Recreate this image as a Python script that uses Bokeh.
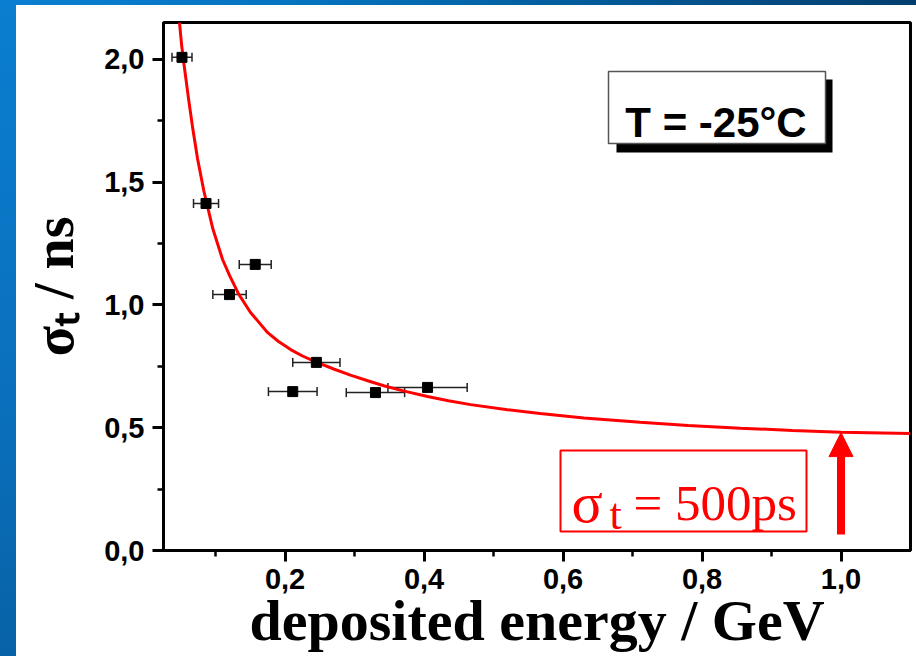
import numpy as np
from bokeh.plotting import figure
from bokeh.models import (Range1d, FixedTicker, CustomJSTickFormatter, ColumnDataSource,
                          Whisker, TeeHead, Label, BoxAnnotation, Arrow, NormalHead, Div)
from bokeh.layouts import column, row
from bokeh.embed import file_html
from bokeh.resources import INLINE

# ---------------- data ----------------
energy = [0.0516, 0.0862, 0.157, 0.120, 0.245, 0.211, 0.330, 0.405]
sigma = [2.008, 1.413, 1.165, 1.042, 0.766, 0.647, 0.643, 0.664]
energy_err = [0.0144, 0.018, 0.023, 0.024, 0.034, 0.035, 0.042, 0.057]

fit_energy = [0.048, 0.051, 0.054, 0.061, 0.067, 0.074, 0.083, 0.096, 0.110, 0.120,
              0.133, 0.150, 0.175, 0.190, 0.208, 0.225, 0.245, 0.270, 0.294, 0.320,
              0.342, 0.370, 0.405, 0.435, 0.467, 0.520, 0.567, 0.630, 0.711, 0.780,
              0.855, 0.930, 1.000, 1.100]
fit_sigma = [2.15, 2.06, 1.99, 1.84, 1.72, 1.595, 1.465, 1.31, 1.185, 1.12,
             1.045, 0.970, 0.887, 0.852, 0.818, 0.792, 0.767, 0.739, 0.714, 0.690,
             0.671, 0.650, 0.627, 0.610, 0.594, 0.573, 0.558, 0.540, 0.522, 0.509,
             0.498, 0.489, 0.482, 0.476]

x_ticks = [0.2, 0.4, 0.6, 0.8, 1.0]
x_tick_labels = ["0,2", "0,4", "0,6", "0,8", "1,0"]
x_minor = [0.1, 0.3, 0.5, 0.7, 0.9]
y_ticks = [0.0, 0.5, 1.0, 1.5, 2.0]
y_tick_labels = ["0,0", "0,5", "1,0", "1,5", "2,0"]
y_minor = [0.25, 0.75, 1.25, 1.75]

x_label = "deposited energy / GeV"
y_label = "σₜ / ns"
temp_text = "T = -25°C"
result_value = "= 500ps"
arrow_x = 1.0
arrow_y_start = 0.065
arrow_y_end = 0.48

X0, X1 = 0.025, 1.1
Y0, Y1 = 0.0, 2.15

# frame position in window pixels (for annotation placement)
FL, FR, FT, FB = 163.0, 910.0, 22.0, 550.0


def dx(px):
    return X0 + (px - FL) * (X1 - X0) / (FR - FL)


def dy(py):
    return Y0 + (FB - py) * (Y1 - Y0) / (FB - FT)


p = figure(width=900, height=651, x_range=Range1d(X0, X1), y_range=Range1d(Y0, Y1),
           output_backend="svg", toolbar_location=None,
           min_border_left=147, min_border_right=6, min_border_top=17, min_border_bottom=106)
p.grid.visible = False
p.background_fill_color = "white"
p.border_fill_color = "white"
p.outline_line_color = "black"
p.outline_line_width = 3

fmt_code = """
for (let i = 0; i < tv.length; i++) {
  if (Math.abs(tick - tv[i]) < 1e-9) { return tl[i]; }
}
return "";
"""
p.xaxis.ticker = FixedTicker(ticks=x_ticks, minor_ticks=x_minor)
p.yaxis.ticker = FixedTicker(ticks=y_ticks, minor_ticks=y_minor)
p.xaxis.formatter = CustomJSTickFormatter(args=dict(tv=x_ticks, tl=x_tick_labels), code=fmt_code)
p.yaxis.formatter = CustomJSTickFormatter(args=dict(tv=y_ticks, tl=y_tick_labels), code=fmt_code)

for ax in (p.xaxis[0], p.yaxis[0]):
    ax.axis_line_color = "black"
    ax.axis_line_width = 3
    ax.major_tick_line_color = "black"
    ax.major_tick_line_width = 3
    ax.minor_tick_line_color = "black"
    ax.minor_tick_line_width = 2.5
    ax.major_tick_out = 11
    ax.major_tick_in = 0
    ax.minor_tick_out = 6
    ax.minor_tick_in = 0
    ax.major_label_text_font = "Liberation Sans"
    ax.major_label_text_font_style = "bold"
    ax.major_label_text_font_size = "29px"
    ax.major_label_text_color = "black"
    ax.axis_label_text_font = "Liberation Serif"
    ax.axis_label_text_font_style = "bold"
    ax.axis_label_text_color = "black"

p.xaxis.major_label_standoff = 7
p.yaxis.major_label_standoff = 8
p.xaxis.axis_label = x_label
p.xaxis.axis_label_text_font_size = "58px"
p.xaxis.axis_label_standoff = -4
p.yaxis.axis_label = y_label
p.yaxis.axis_label_text_font_size = "56px"
p.yaxis.axis_label_standoff = 16

# fit curve
p.line(fit_energy, fit_sigma, line_color="#ff0000", line_width=3)

# data with horizontal error bars
src = ColumnDataSource(dict(
    x=energy, y=sigma,
    lo=[e - d for e, d in zip(energy, energy_err)],
    hi=[e + d for e, d in zip(energy, energy_err)],
))
whisk = Whisker(base="y", lower="lo", upper="hi", dimension="width", source=src,
                line_color="#222222", line_width=1.5,
                lower_head=TeeHead(size=9, line_color="#222222", line_width=1.5),
                upper_head=TeeHead(size=9, line_color="#222222", line_width=1.5))
p.add_layout(whisk)
p.scatter("x", "y", source=src, marker="square", size=10, color="black")

# temperature box with shadow
p.add_layout(BoxAnnotation(left=dx(616), right=dx(832), top=dy(79), bottom=dy(152),
                           fill_color="black", fill_alpha=1, line_color=None))
p.add_layout(BoxAnnotation(left=dx(608), right=dx(825), top=dy(71), bottom=dy(143),
                           fill_color="white", fill_alpha=1, line_color="#555555",
                           line_alpha=1, line_width=1.5))
p.add_layout(Label(x=dx(715.5), y=dy(122), text=temp_text, text_align="center",
                   text_baseline="alphabetic", text_font="Liberation Sans",
                   text_font_style="bold", text_font_size="42px", text_color="black"))

# red result box
p.add_layout(BoxAnnotation(left=dx(560), right=dx(806), top=dy(450), bottom=dy(531),
                           fill_color=None, fill_alpha=0, line_color="#ff0000",
                           line_alpha=1, line_width=2))
red_kw = dict(text_baseline="alphabetic", text_align="left", text_font="Liberation Serif",
              text_color="#ff0000")
p.add_layout(Label(x=dx(571), y=dy(502), text="σ", text_font_size="58px", **red_kw))
p.add_layout(Label(x=dx(609), y=dy(514), text="t", text_font_size="44px", **red_kw))
p.add_layout(Label(x=dx(633), y=dy(502), text=result_value, text_font_size="51px", **red_kw))

# arrow
p.add_layout(Arrow(end=NormalHead(size=24, fill_color="#ff0000", line_color="#ff0000", line_width=1),
                   x_start=arrow_x, y_start=arrow_y_start, x_end=arrow_x, y_end=arrow_y_end,
                   line_color="#ff0000", line_width=8))

top_strip = Div(width=916, height=5, margin=0,
                styles={"background": "linear-gradient(to right, #0a80d2 0%, #0572bd 35%, #003e6e 100%)"})
left_strip = Div(width=16, height=651, margin=0,
                 styles={"background": "linear-gradient(to bottom, #0a7ecf 0%, #0a70bd 60%, #0862a6 100%)"})
layout = column(top_strip, row(left_strip, p, spacing=0), spacing=0)

open("out.html", "w").write(file_html(layout, INLINE))
